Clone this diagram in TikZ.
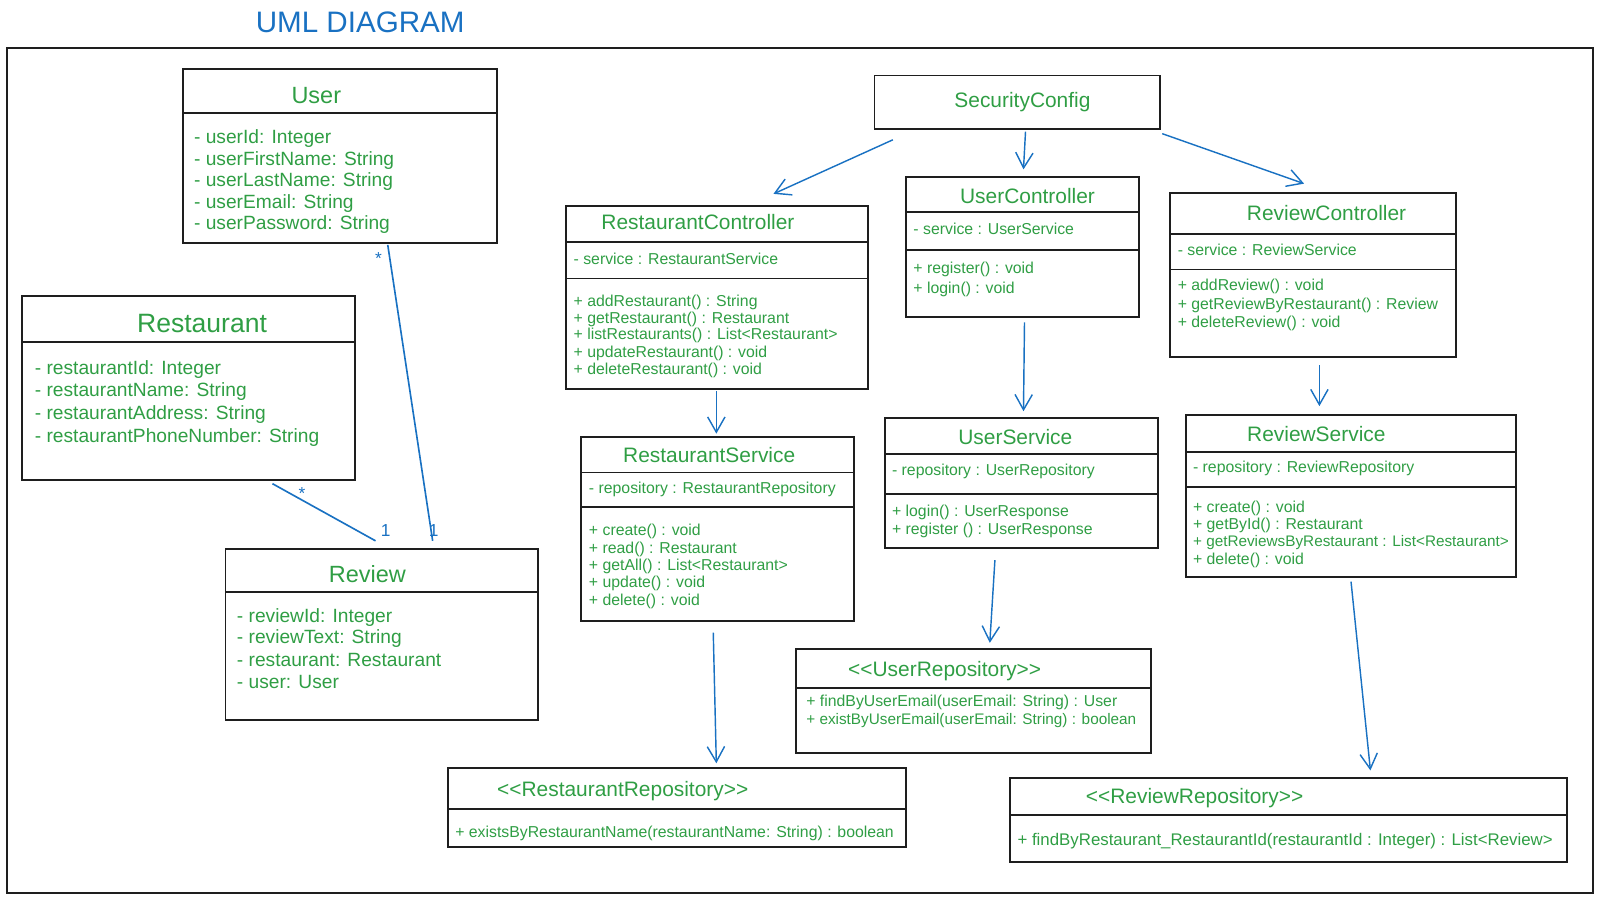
\documentclass[tikz,border=0pt]{standalone}
\usepackage{fontspec}
\setmainfont{Liberation Sans}
\usetikzlibrary{arrows.meta,fit}
\definecolor{ink}{RGB}{30,30,30}
\definecolor{txtgreen}{RGB}{47,158,68}
\definecolor{arrblue}{RGB}{25,113,194}
\begin{document}
\begin{tikzpicture}[x=1pt,y=-1pt,
  box/.style={draw=ink, line width=1.9pt, inner sep=0pt, outer sep=0pt},
  sep/.style={draw=ink, line width=1.7pt},
  frame/.style={draw=ink, line width=1.9pt},
  ttl/.style={text=txtgreen, inner sep=0pt, font=\fontsize{20.5}{24}\selectfont},
  ettl/.style={text=txtgreen, inner sep=0pt, font=\fontsize{23}{27}\selectfont},
  ettllg/.style={ettl, font=\fontsize{26}{30}\selectfont},
  rttl/.style={ttl, anchor=west},
  attr/.style={anchor=west, inner sep=0pt, text=txtgreen, font=\fontsize{18.8}{22}\selectfont},
  mem/.style={anchor=west, inner sep=0pt, text=txtgreen, font=\fontsize{15.5}{18}\selectfont},
  memsm/.style={mem, font=\fontsize{15}{18}\selectfont},
  memlg/.style={mem, font=\fontsize{16.5}{19}\selectfont},
  arr/.style={draw=arrblue, line width=1.4pt, -{Straight Barb[length=15pt,width=17pt]}},
  assoc/.style={draw=arrblue, line width=1.6pt},
  mult/.style={text=arrblue, inner sep=0pt, font=\fontsize{17}{20}\selectfont},
  heading/.style={text=arrblue, inner sep=0pt, font=\fontsize{29}{33}\selectfont}
]
\useasboundingbox (0,0) rectangle (1568,881);
\draw[frame] (7,47) rectangle (1561,875);
\node[heading] (heading) at (353,22) {UML DIAGRAM};

% User
\node[box, fit={(179,68) (487,238)}] (user) {};
\draw[sep] ([yshift=-43pt]user.north west) -- ([yshift=-43pt]user.north east);
\node[ettl] (userT) at (310,94) {User};
\node[attr] (userA1) at (190,136) {- userId: Integer};
\node[attr] (userA2) at (190,157) {- userFirstName: String};
\node[attr] (userA3) at (190,178) {- userLastName: String};
\node[attr] (userA4) at (190,199) {- userEmail: String};
\node[attr] (userA5) at (190,220) {- userPassword: String};

% Restaurant
\node[box, fit={(22,290) (348,470)}] (rest) {};
\draw[sep] ([yshift=-45pt]rest.north west) -- ([yshift=-45pt]rest.north east);
\node[ettllg] (restT) at (198,317) {Restaurant};
\node[attr] (restA1) at (34,362) {- restaurantId: Integer};
\node[attr] (restA2) at (34,384) {- restaurantName: String};
\node[attr] (restA3) at (34,406) {- restaurantAddress: String};
\node[attr] (restA4) at (34,429) {- restaurantPhoneNumber: String};

% Review
\node[box, fit={(221,538) (527,706)}] (review) {};
\draw[sep] ([yshift=-42pt]review.north west) -- ([yshift=-42pt]review.north east);
\node[ettl] (reviewT) at (360,563) {Review};
\node[attr] (reviewA1) at (232,605) {- reviewId: Integer};
\node[attr] (reviewA2) at (232,626) {- reviewText: String};
\node[attr] (reviewA3) at (232,647) {- restaurant: Restaurant};
\node[attr] (reviewA4) at (232,668) {- user: User};

% SecurityConfig
\node[box, fit={(857,74) (1137,126)}] (sc) {};
\node[ttl] (scT) at (1002,100) {SecurityConfig};

% RestaurantController
\node[box, fit={(555,202) (851,381)}] (rc) {};
\draw[sep] ([yshift=-35pt]rc.north west) -- ([yshift=-35pt]rc.north east);
\draw[sep] ([yshift=-71pt]rc.north west) -- ([yshift=-71pt]rc.north east);
\node[ttl] (rcT) at (684,218) {RestaurantController};
\node[mem] (rcF) at (562,254) {- service : RestaurantService};
\node[mem] (rcM1) at (562,296) {+ addRestaurant() : String};
\node[mem] (rcM2) at (562,313) {+ getRestaurant() : Restaurant};
\node[mem] (rcM3) at (562,329) {+ listRestaurants() : List<Restaurant>};
\node[mem] (rcM4) at (562,346) {+ updateRestaurant() : void};
\node[mem] (rcM5) at (562,363) {+ deleteRestaurant() : void};

% UserController
\node[box, fit={(888,173) (1116,311)}] (uc) {};
\draw[sep] ([yshift=-35pt]uc.north west) -- ([yshift=-35pt]uc.north east);
\draw[sep] ([yshift=-72pt]uc.north west) -- ([yshift=-72pt]uc.north east);
\node[ttl] (ucT) at (1007,192) {UserController};
\node[mem] (ucF) at (895,224) {- service : UserService};
\node[mem] (ucM1) at (895,264) {+ register() : void};
\node[mem] (ucM2) at (895,284) {+ login() : void};

% ReviewController
\node[box, fit={(1147,189) (1427,350)}] (rvc) {};
\draw[sep] ([yshift=-40pt]rvc.north west) -- ([yshift=-40pt]rvc.north east);
\draw[sep] ([yshift=-75pt]rvc.north west) -- ([yshift=-75pt]rvc.north east);
\node[ttl] (rvcT) at (1300,209) {ReviewController};
\node[mem] (rvcF) at (1154,245) {- service : ReviewService};
\node[mem] (rvcM1) at (1154,281) {+ addReview() : void};
\node[mem] (rvcM2) at (1154,299) {+ getReviewByRestaurant() : Review};
\node[mem] (rvcM3) at (1154,317) {+ deleteReview() : void};

% RestaurantService
\node[box, fit={(569,428) (837,609)}] (rs) {};
\draw[sep] ([yshift=-35pt]rs.north west) -- ([yshift=-35pt]rs.north east);
\draw[sep] ([yshift=-69pt]rs.north west) -- ([yshift=-69pt]rs.north east);
\node[ttl] (rsT) at (695,446) {RestaurantService};
\node[mem] (rsF) at (577,480) {- repository : RestaurantRepository};
\node[mem] (rsM1) at (577,521) {+ create() : void};
\node[mem] (rsM2) at (577,538) {+ read() : Restaurant};
\node[mem] (rsM3) at (577,555) {+ getAll() : List<Restaurant>};
\node[mem] (rsM4) at (577,572) {+ update() : void};
\node[mem] (rsM5) at (577,589) {+ delete() : void};

% UserService
\node[box, fit={(867,410) (1135,537)}] (us) {};
\draw[sep] ([yshift=-35pt]us.north west) -- ([yshift=-35pt]us.north east);
\draw[sep] ([yshift=-74pt]us.north west) -- ([yshift=-74pt]us.north east);
\node[ttl] (usT) at (995,428) {UserService};
\node[mem] (usF) at (874,462) {- repository : UserRepository};
\node[mem] (usM1) at (874,502) {+ login() : UserResponse};
\node[mem] (usM2) at (874,520) {+ register () : UserResponse};

% ReviewService
\node[box, fit={(1162,407) (1486,565)}] (rvs) {};
\draw[sep] ([yshift=-36pt]rvs.north west) -- ([yshift=-36pt]rvs.north east);
\draw[sep] ([yshift=-70pt]rvs.north west) -- ([yshift=-70pt]rvs.north east);
\node[ttl] (rvsT) at (1290,425) {ReviewService};
\node[mem] (rvsF) at (1169,459) {- repository : ReviewRepository};
\node[mem] (rvsM1) at (1169,498) {+ create() : void};
\node[mem] (rvsM2) at (1169,515) {+ getById() : Restaurant};
\node[memsm] (rvsM3) at (1169,532) {+ getReviewsByRestaurant : List<Restaurant>};
\node[mem] (rvsM4) at (1169,549) {+ delete() : void};

% UserRepository
\node[box, fit={(780,636) (1128,738)}] (urepo) {};
\draw[sep] ([yshift=-38pt]urepo.north west) -- ([yshift=-38pt]urepo.north east);
\node[rttl] (urepoT) at (831,658) {<{}<UserRepository>{}>};
\node[mem] (urepoM1) at (790,688) {+ findByUserEmail(userEmail: String) : User};
\node[memsm] (urepoM2) at (790,706) {+ existByUserEmail(userEmail: String) : boolean};

% RestaurantRepository
\node[box, fit={(439,753) (888,830)}] (rrepo) {};
\draw[sep] ([yshift=-40pt]rrepo.north west) -- ([yshift=-40pt]rrepo.north east);
\node[rttl] (rrepoT) at (487,775) {<{}<RestaurantRepository>{}>};
\node[mem] (rrepoM1) at (446,817) {+ existsByRestaurantName(restaurantName: String) : boolean};

% ReviewRepository
\node[box, fit={(990,762) (1536,845)}] (rvrepo) {};
\draw[sep] ([yshift=-37pt]rvrepo.north west) -- ([yshift=-37pt]rvrepo.north east);
\node[rttl] (rvrepoT) at (1064,782) {<{}<ReviewRepository>{}>};
\node[memlg] (rvrepoM1) at (997,824) {+ findByRestaurant\_RestaurantId(restaurantId : Integer) : List<Review>};

% dependency arrows
\draw[arr] ([shift={(18,11)}]sc.south west) -- ([shift={(55,-12)}]rc.north);
\draw[arr] ([shift={(8,3)}]sc.south) -- ([shift={(1,-7)}]uc.north);
\draw[arr] ([shift={(2,5)}]sc.south east) -- ([shift={(-9,-9)}]rvc.north);
\draw[arr] ([shift={(-1,2)}]rc.south) -- ([shift={(-1,-3)}]rs.north);
\draw[arr] ([shift={(2,5)}]uc.south) -- ([shift={(2,-7)}]us.north);
\draw[arr] ([shift={(6,8)}]rvc.south) -- ([shift={(-31,-9)}]rvs.north);
\draw[arr] ([shift={(-4,11)}]rs.south) -- ([shift={(38.5,-5)}]rrepo.north);
\draw[arr] ([shift={(-26,12)}]us.south) -- ([shift={(16,-6)}]urepo.north);
\draw[arr] ([shift={(0,5)}]rvs.south) -- ([shift={(80,-7)}]rvrepo.north);

% associations
\draw[assoc] ([shift={(47,2)}]user.south) -- ([shift={(50,-8)}]review.north);
\draw[assoc] ([shift={(82,4)}]rest.south) -- ([shift={(-6,-8)}]review.north);
\node[mult] (multU) at (371,253) {*};
\node[mult] (multRU) at (425,520) {1};
\node[mult] (multR) at (296,484) {*};
\node[mult] (multRR) at (378,520) {1};
\end{tikzpicture}
\end{document}
